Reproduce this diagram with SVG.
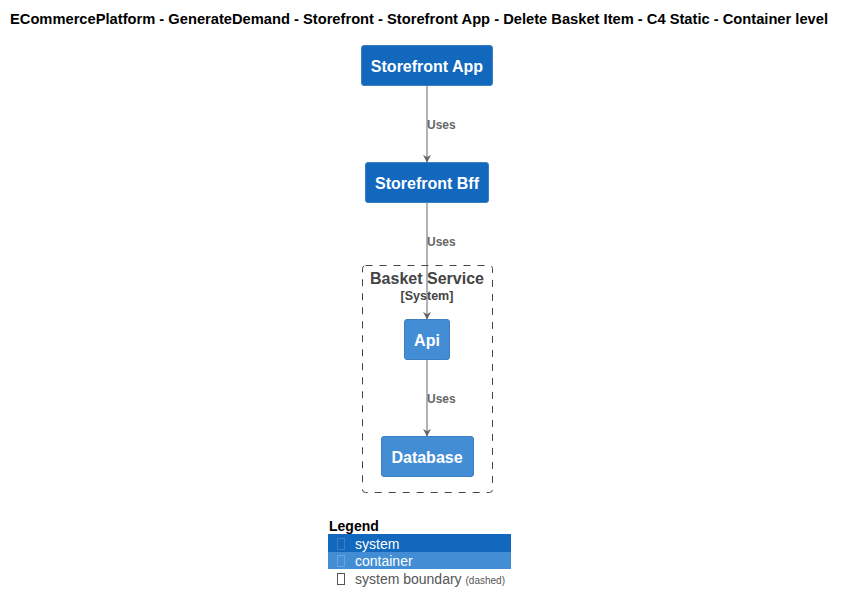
<svg xmlns="http://www.w3.org/2000/svg" width="846" height="613" viewBox="0 0 846 613">
  <style>
    text { font-family: "Liberation Sans", Arial, sans-serif; }
    .title { font-size: 14px; font-weight: bold; fill: #000; }
    .sys { fill: #1168bd; stroke: #3c7fc0; stroke-width: 1; }
    .cont { fill: #438dd5; stroke: #3c7fc0; stroke-width: 1; }
    .nlabel { font-size: 16px; font-weight: bold; fill: #fff; text-anchor: middle; }
    .edge { stroke: #666; stroke-width: 1; fill: none; }
    .elabel { font-size: 12px; font-weight: bold; fill: #666; }
    .boundary { fill: none; stroke: #444; stroke-width: 1; stroke-dasharray: 7 7; }
    .blabel { font-size: 16px; font-weight: bold; fill: #444; text-anchor: middle; }
    .btype { font-size: 12.5px; font-weight: bold; fill: #444; text-anchor: middle; }
    .legtitle { font-size: 14px; font-weight: bold; fill: #000; }
    .legtext { font-size: 14px; fill: #fff; }
  </style>
  <defs>
    <marker id="arrow" viewBox="0 0 10 10" refX="9" refY="5" markerWidth="8" markerHeight="11" orient="auto" markerUnits="userSpaceOnUse">
      <path d="M0,0 L10,5 L0,10 L3,5 z" fill="#666"/>
    </marker>
  </defs>

  <text class="title" x="10" y="24" textLength="818" lengthAdjust="spacingAndGlyphs">ECommercePlatform - GenerateDemand - Storefront - Storefront App - Delete Basket Item - C4 Static - Container level</text>

  <g id="basket-service">
    <rect class="boundary" x="362.5" y="265.5" width="130" height="227" rx="3"/>
    <text class="blabel" x="427" y="284">Basket Service</text>
    <text class="btype" x="427" y="300">[System]</text>
  </g>

  <g id="connectors">
    <line class="edge" x1="427" y1="85" x2="427" y2="162" marker-end="url(#arrow)"/>
    <text class="elabel" x="427" y="129">Uses</text>
    <line class="edge" x1="427" y1="202" x2="427" y2="319" marker-end="url(#arrow)"/>
    <text class="elabel" x="427" y="246">Uses</text>
    <line class="edge" x1="427" y1="359" x2="427" y2="436" marker-end="url(#arrow)"/>
    <text class="elabel" x="427" y="403">Uses</text>
  </g>

  <g id="storefront-app">
    <rect class="sys" x="361.5" y="45.5" width="131" height="40" rx="2.5"/>
    <text class="nlabel" x="427" y="71.5">Storefront App</text>
  </g>

  <g id="storefront-bff">
    <rect class="sys" x="365.5" y="162.5" width="123" height="40" rx="2.5"/>
    <text class="nlabel" x="427" y="188.5">Storefront Bff</text>
  </g>

  <g id="api">
    <rect class="cont" x="404.5" y="319.5" width="45" height="40" rx="2.5"/>
    <text class="nlabel" x="427" y="345.5">Api</text>
  </g>

  <g id="database">
    <rect class="cont" x="381.5" y="436.5" width="92" height="40" rx="2.5"/>
    <text class="nlabel" x="427" y="462.5">Database</text>
  </g>

  <g id="legend">
    <text class="legtitle" x="329" y="531">Legend</text>
    <rect x="328" y="534" width="183" height="18" fill="#1168bd"/>
    <rect x="328" y="552" width="183" height="17" fill="#438dd5"/>
    <rect x="337.5" y="538.5" width="7" height="11" fill="none" stroke="#3c7fc0" stroke-width="1"/>
    <text class="legtext" x="355" y="549">system</text>
    <rect x="337.5" y="555.5" width="7" height="11" fill="none" stroke="#6ba3e0" stroke-width="1"/>
    <text class="legtext" x="355" y="566">container</text>
    <rect x="337.5" y="573.5" width="7" height="11" fill="none" stroke="#555" stroke-width="1"/>
    <text x="355" y="584" font-size="14" fill="#555">system boundary <tspan font-size="10">(dashed)</tspan></text>
  </g>
</svg>
